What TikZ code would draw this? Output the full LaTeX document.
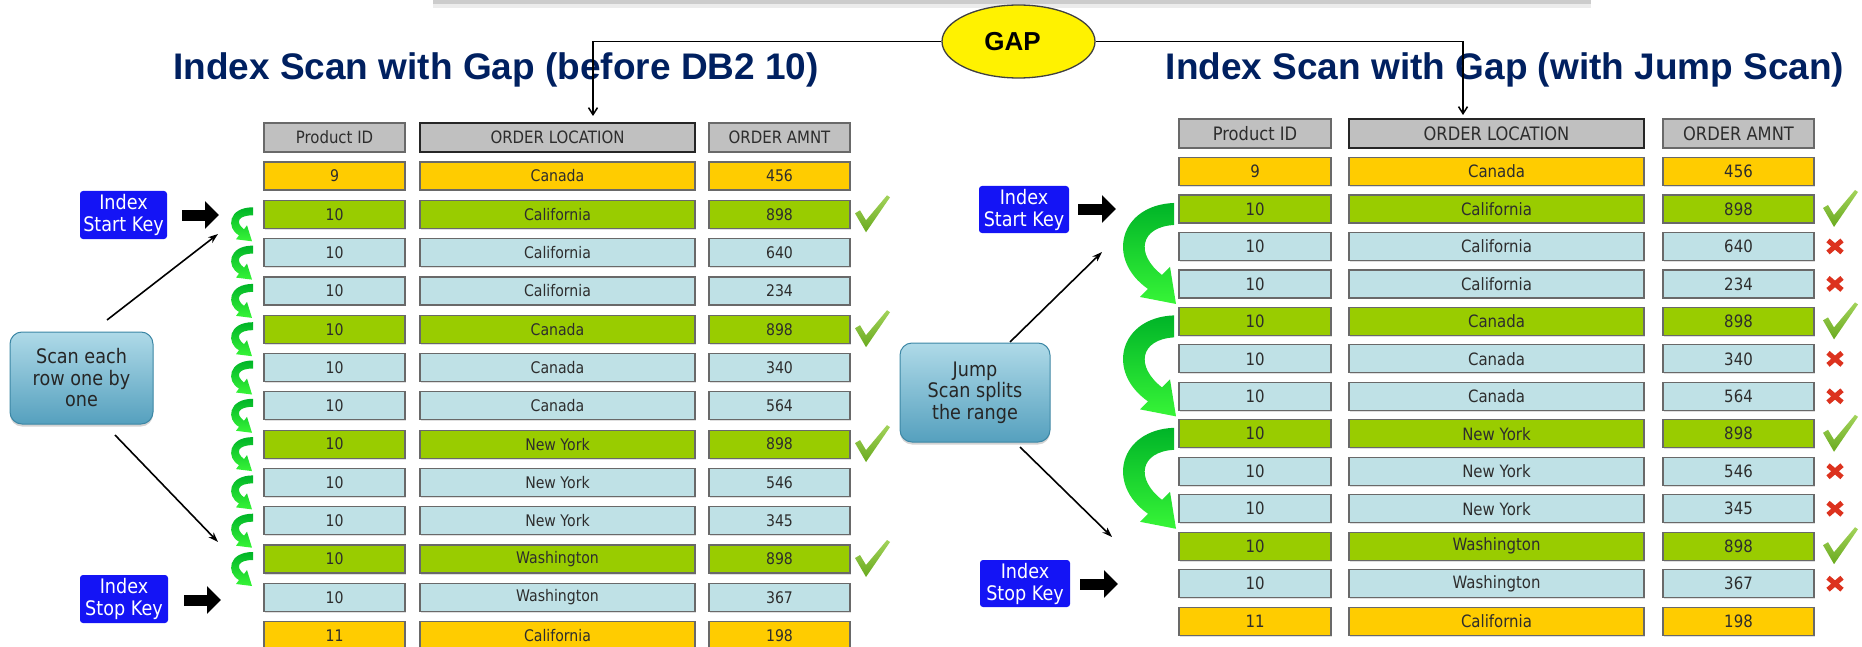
\documentclass[tikz,border=0pt]{standalone}
\usepackage{fontspec}
\setmainfont{Liberation Sans}
\newfontfamily\cellf[FakeStretch=0.88]{DejaVu Sans}
\usetikzlibrary{arrows.meta,shapes.geometric,shadows}
\definecolor{hdrgray}{RGB}{192,192,192}
\definecolor{cellorange}{RGB}{255,204,0}
\definecolor{cellgreen}{RGB}{153,204,0}
\definecolor{cellblue}{RGB}{191,225,230}
\definecolor{cellborder}{RGB}{105,105,105}
\definecolor{celltext}{RGB}{45,45,45}
\definecolor{titleblue}{RGB}{0,32,96}
\definecolor{keyblue}{RGB}{20,20,245}
\definecolor{checkgreen}{RGB}{140,200,50}
\definecolor{checkdark}{RGB}{105,170,30}
\definecolor{xred}{RGB}{220,50,30}
\definecolor{arrgreen}{RGB}{55,245,55}
\definecolor{arrdark}{RGB}{0,180,40}
\definecolor{scantop}{RGB}{175,218,232}
\definecolor{scanbot}{RGB}{85,160,190}
\definecolor{scanedge}{RGB}{60,135,165}
\begin{document}
\begin{tikzpicture}[x=1pt,y=-1pt,
  cell/.style={draw=cellborder, line width=1.2pt, inner sep=0pt, minimum height=28pt,
    text=celltext, drop shadow={shadow xshift=1pt, shadow yshift=-1.5pt, opacity=0.25}},
  lcell/.style={cell, font=\cellf\fontsize{16}{16}\selectfont},
  rcell/.style={cell, font=\cellf\fontsize{17}{17}\selectfont},
  hdr/.style={fill=hdrgray, minimum height=29pt},
  hdrbold/.style={hdr, draw=black!85, line width=2.2pt},
  keybox/.style={fill=keyblue, rounded corners=3pt, inner sep=0pt, text=white, align=center,
    font=\cellf\fontsize{20}{22}\selectfont},
  scanbox/.style={top color=scantop, bottom color=scanbot, draw=scanedge, line width=1pt,
    rounded corners=12pt, inner sep=0pt, align=center, text=black!85,
    font=\cellf\fontsize{20}{21.5}\selectfont,
    drop shadow={shadow xshift=0pt, shadow yshift=-2.5pt, opacity=0.35}},
  title/.style={anchor=base, text=titleblue, font=\bfseries\fontsize{37}{37}\selectfont},
  blockarrow/.style={line width=11pt, -{Triangle[length=14pt,width=27pt]}},
  thinarrow/.style={line width=1.6pt, -{Stealth[length=10pt,width=7pt]}},
  gapline/.style={line width=1.5pt, -{Straight Barb[length=7pt,width=9pt]}},
  check/.pic={\shade[top color=checkgreen!80!white, bottom color=checkdark]
    (-17,-1) -- (-12,-4) -- (-6,6) -- (15,-19) -- (18,-17) -- (-6,18) -- cycle;},
  xmark/.pic={\draw[xred, line width=5pt] (-7,-6) -- (7,6) (-7,6) -- (7,-6);},
  smallarr/.pic={\shade[top color=arrdark, bottom color=arrgreen]
    (0,-7) .. controls (-25,-7) and (-27,14) .. (-14,21) -- (-17,25) -- (-1,27)
    -- (-6,11) -- (-9,15) .. controls (-18,8) and (-15,1) .. (0,1) -- cycle;},
  bigarr/.pic={\shade[top color=arrdark, bottom color=arrgreen]
    (0,-6) .. controls (-54,-4) and (-69,50) .. (-26,80) -- (-34,88) -- (2,95)
    -- (-4,58) -- (-12,66) .. controls (-39,45) and (-34,18) .. (0,16) -- cycle;}
]
\useasboundingbox (0,0) rectangle (1862,647);

% top bar
\fill[gray!40] (433,0) rectangle (1591,4);
\fill[gray!15] (433,4) rectangle (1591,8);

% titles
\node[title] (tL) at (496,80) {Index Scan with Gap (before DB2 10)};
\node[title] (tR) at (1505,80) {Index Scan with Gap (with Jump Scan)};

% GAP
\node[ellipse, draw=black!75, line width=1.3pt, fill=yellow, minimum width=153pt,
  minimum height=73pt, inner sep=0pt, font=\bfseries\fontsize{26}{26}\selectfont] (gap) at (1018.5,41.5) {GAP\hspace*{12pt}};
\coordinate (gl) at (593,116);
\coordinate (gr) at (1463,115);
\draw[gapline] (gap.west) -| (gl);
\draw[gapline] (gap.east) -| (gr);

% ---------- left table ----------
\node[lcell, hdr, font=\cellf\fontsize{17}{17}\selectfont, minimum width=141pt] (Lh1) at (334.5,137.5) {Product ID};
\node[lcell, hdrbold, font=\cellf\fontsize{17}{17}\selectfont, minimum width=275pt] (Lh2) at (557.5,137.5) {ORDER LOCATION};
\node[lcell, hdr, font=\cellf\fontsize{17}{17}\selectfont, minimum width=141pt] (Lh3) at (779.5,137.5) {ORDER AMNT};
\foreach \i/\p/\loc/\amt/\c in {1/9/Canada/456/cellorange, 2/10/California/898/cellgreen,
  3/10/California/640/cellblue, 4/10/California/234/cellblue, 5/10/Canada/898/cellgreen,
  6/10/Canada/340/cellblue, 7/10/Canada/564/cellblue, 8/10/New York/898/cellgreen,
  9/10/New York/546/cellblue, 10/10/New York/345/cellblue, 11/10/Washington/898/cellgreen,
  12/10/Washington/367/cellblue, 13/11/California/198/cellorange}{
  \pgfmathsetmacro\yy{176+(\i-1)*38.3}
  \node[lcell, fill=\c, minimum width=141pt] (L\i-a) at (334.5,\yy) {\p};
  \node[lcell, fill=\c, minimum width=275pt] (L\i-b) at (557.5,\yy) {\loc};
  \node[lcell, fill=\c, minimum width=141pt] (L\i-c) at (779.5,\yy) {\amt};
}
\foreach \i in {2,5,8,11}{
  \pgfmathsetmacro\yy{176+(\i-1)*38.3}
  \pic at (872,\yy) {check};
}
\foreach \i in {2,...,11}{
  \pgfmathsetmacro\yy{176+(\i-1)*38.3}
  \pic at (253,\yy) {smallarr};
}
\node[keybox, minimum width=87pt, minimum height=48pt] (Lstart) at (123.5,215) {Index\\Start Key};
\node[keybox, minimum width=88pt, minimum height=48pt] (Lstop) at (124,599) {Index\\Stop Key};
\coordinate (Lsa1) at (182,215);
\coordinate (Lsa2) at (219,215);
\coordinate (Lso1) at (184,600);
\coordinate (Lso2) at (221,600);
\draw[blockarrow] (Lsa1) -- (Lsa2);
\draw[blockarrow] (Lso1) -- (Lso2);
\node[scanbox, minimum width=143pt, minimum height=92pt] (scanL) at (81.5,378) {Scan each\\row one by\\one};
\coordinate (La1) at (107,320);
\coordinate (La2) at (218,234);
\coordinate (Lb1) at (115,435);
\coordinate (Lb2) at (218,542);
\draw[thinarrow] (La1) -- (La2);
\draw[thinarrow] (Lb1) -- (Lb2);

% ---------- right table ----------
\node[rcell, hdr, font=\cellf\fontsize{18.5}{18.5}\selectfont, minimum width=152pt] (Rh1) at (1255,133.5) {Product ID};
\node[rcell, hdrbold, font=\cellf\fontsize{18.5}{18.5}\selectfont, minimum width=295pt] (Rh2) at (1496.5,133.5) {ORDER LOCATION};
\node[rcell, hdr, font=\cellf\fontsize{18.5}{18.5}\selectfont, minimum width=151pt] (Rh3) at (1738.5,133.5) {ORDER AMNT};
\foreach \i/\p/\loc/\amt/\c in {1/9/Canada/456/cellorange, 2/10/California/898/cellgreen,
  3/10/California/640/cellblue, 4/10/California/234/cellblue, 5/10/Canada/898/cellgreen,
  6/10/Canada/340/cellblue, 7/10/Canada/564/cellblue, 8/10/New York/898/cellgreen,
  9/10/New York/546/cellblue, 10/10/New York/345/cellblue, 11/10/Washington/898/cellgreen,
  12/10/Washington/367/cellblue, 13/11/California/198/cellorange}{
  \pgfmathsetmacro\yy{171.5+(\i-1)*37.47}
  \node[rcell, fill=\c, minimum width=152pt] (R\i-a) at (1255,\yy) {\p};
  \node[rcell, fill=\c, minimum width=295pt] (R\i-b) at (1496.5,\yy) {\loc};
  \node[rcell, fill=\c, minimum width=151pt] (R\i-c) at (1738.5,\yy) {\amt};
}
\foreach \i in {2,5,8,11}{
  \pgfmathsetmacro\yy{171.5+(\i-1)*37.47}
  \pic at (1840,\yy) {check};
}
\foreach \i in {3,4,6,7,9,10,12}{
  \pgfmathsetmacro\yy{171.5+(\i-1)*37.47}
  \pic at (1835,\yy) {xmark};
}
\foreach \i in {2,5,8}{
  \pgfmathsetmacro\yy{171.5+(\i-1)*37.47}
  \pic at (1174,\yy) {bigarr};
}
\node[keybox, minimum width=90pt, minimum height=47pt] (Rstart) at (1024,209.5) {Index\\Start Key};
\node[keybox, minimum width=90pt, minimum height=47pt] (Rstop) at (1025,583.5) {Index\\Stop Key};
\coordinate (Rsa1) at (1078,209);
\coordinate (Rsa2) at (1116,209);
\coordinate (Rso1) at (1080,584);
\coordinate (Rso2) at (1118,584);
\draw[blockarrow] (Rsa1) -- (Rsa2);
\draw[blockarrow] (Rso1) -- (Rso2);
\node[scanbox, minimum width=150pt, minimum height=99pt] (scanR) at (975,392.5) {Jump\\Scan splits\\the range};
\coordinate (Ra1) at (1010,342);
\coordinate (Ra2) at (1102,252);
\coordinate (Rb1) at (1020,447);
\coordinate (Rb2) at (1112,537);
\draw[thinarrow] (Ra1) -- (Ra2);
\draw[thinarrow] (Rb1) -- (Rb2);
\end{tikzpicture}
\end{document}
